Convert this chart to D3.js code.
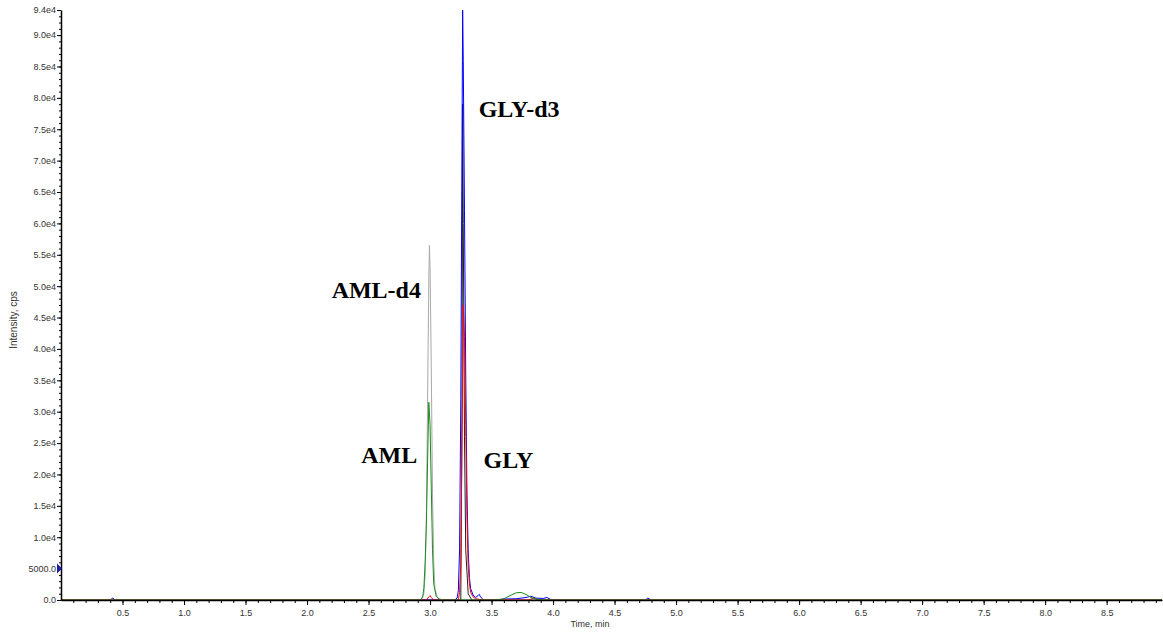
<!DOCTYPE html>
<html>
<head>
<meta charset="utf-8">
<script src="https://cdn.jsdelivr.net/npm/d3@7"></script>
<style>
  html, body { margin: 0; padding: 0; background: #fff; }
  svg { display: block; }
</style>
</head>
<body>
<div id="chart"></div>
<script>
// Data (time in min, intensity in cps)
const glyD3 = [
  [0.0, 0], [0.40, 0], [0.42, 300], [0.44, 0], [3.20, 0], [3.22, 300], [3.23, 1500], [3.24, 8000],
  [3.25, 32000], [3.26, 74000], [3.265, 94000], [3.27, 86000], [3.28, 62000],
  [3.29, 36000], [3.30, 17000], [3.31, 8000], [3.32, 3600], [3.33, 1800],
  [3.35, 800], [3.37, 400], [3.39, 700], [3.40, 900], [3.41, 500], [3.43, 100],
  [3.45, 0], [3.50, 0], [3.60, 150], [3.70, 200], [3.78, 400], [3.82, 600],
  [3.86, 300], [3.92, 250], [3.95, 400], [3.98, 100], [4.02, 0], [4.75, 0],
  [4.77, 300], [4.80, 0], [8.95, 0]
];
const gly = [
  [0.0, 0], [2.97, 0], [2.99, 500], [3.00, 700], [3.01, 400], [3.03, 0],
  [3.23, 0], [3.24, 1200], [3.25, 6000], [3.26, 26000], [3.27, 47000],
  [3.28, 42000], [3.29, 28000], [3.30, 13000], [3.31, 5500], [3.32, 2600],
  [3.33, 1200], [3.35, 500], [3.37, 200], [3.40, 100], [3.45, 0], [3.80, 0],
  [3.84, 300], [3.88, 0], [8.95, 0]
];
const amlD4 = [
  [0.0, 0], [2.93, 0], [2.95, 1000], [2.96, 4000], [2.97, 13000], [2.98, 32000],
  [2.99, 51000], [2.995, 56500], [3.00, 53000], [3.01, 37000], [3.02, 17000],
  [3.03, 6000], [3.04, 1800], [3.06, 400], [3.10, 0], [8.95, 0]
];
const aml = [
  [0.0, 0], [2.92, 0], [2.94, 500], [2.95, 2000], [2.96, 6000], [2.97, 12000],
  [2.98, 22000], [2.99, 31500], [3.00, 28000], [3.01, 18000], [3.02, 8000],
  [3.03, 2500], [3.05, 600], [3.08, 0], [3.55, 0], [3.60, 200], [3.65, 700],
  [3.70, 1150], [3.74, 1200], [3.78, 900], [3.82, 400], [3.87, 100], [3.92, 0],
  [8.95, 0]
];
const other = [
  [0.0, 0], [3.25, 0], [3.26, 30000], [3.265, 79000], [3.27, 60000], [3.28, 26000],
  [3.29, 8000], [3.31, 1000], [3.34, 0], [8.95, 0]
];

const series = [
  { name: 'other', color: '#222222', values: other },
  { name: 'GLY-d3', color: '#0000ff', values: glyD3 },
  { name: 'AML-d4', color: '#a8a8a8', values: amlD4 },
  { name: 'GLY', color: '#ff0000', values: gly },
  { name: 'AML', color: '#1e8c1e', values: aml }
];

const peakLabels = [
  { text: 'GLY-d3', t: 3.395, v: 77000 },
  { text: 'AML-d4', t: 2.20, v: 48100 },
  { text: 'AML', t: 2.44, v: 21800 },
  { text: 'GLY', t: 3.435, v: 21100 }
];

const xMajor = [0.5, 1.0, 1.5, 2.0, 2.5, 3.0, 3.5, 4.0, 4.5, 5.0, 5.5, 6.0, 6.5, 7.0, 7.5, 8.0, 8.5];
const yMajor = [0, 5000, 10000, 15000, 20000, 25000, 30000, 35000, 40000, 45000,
  50000, 55000, 60000, 65000, 70000, 75000, 80000, 85000, 90000, 94000];

const WIDTH = 1163;
const HEIGHT = 632;
const margin = { left: 61, right: 1, top: 10, bottom: 32 };

const x = d3.scaleLinear().domain([0, 8.95]).range([margin.left, WIDTH - margin.right]);
const y = d3.scaleLinear().domain([0, 94000]).range([HEIGHT - margin.bottom, margin.top]);

const svg = d3.select('#chart').append('svg')
  .attr('width', WIDTH).attr('height', HEIGHT)
  .style('font-family', 'Liberation Sans, Arial, sans-serif');

// traces
const line = d3.line().x(d => x(d[0])).y(d => y(d[1]));
svg.append('g').selectAll('path')
  .data(series)
  .join('path')
  .attr('fill', 'none')
  .attr('stroke', d => d.color)
  .attr('stroke-width', 1)
  .attr('d', d => line(d.values));

// x axis
const xMinor = d3.range(1, 90).map(i => i / 10).filter(v => v <= 8.95);
const gx = svg.append('g').attr('transform', `translate(0,${y(0)})`);
gx.call(d3.axisBottom(x).tickValues(xMinor).tickSize(3).tickFormat(''))
  .call(g => g.select('.domain').remove());
gx.append('g').call(d3.axisBottom(x).tickValues(xMajor).tickSize(5).tickSizeOuter(0)
  .tickFormat(d3.format('.1f')))
  .call(g => g.select('.domain').attr('stroke', '#000').attr('stroke-width', 1.5))
  .call(g => g.selectAll('text').attr('fill', '#333').attr('font-size', 9).attr('dy', '0.9em'));

// y axis
const yMinor = d3.range(0, 95000, 1000);
const gy = svg.append('g').attr('transform', `translate(${x(0)},0)`);
gy.call(d3.axisLeft(y).tickValues(yMinor).tickSize(2).tickFormat(''))
  .call(g => g.select('.domain').remove());
gy.append('g').call(d3.axisLeft(y).tickValues(yMajor).tickSize(4).tickSizeOuter(0)
  .tickFormat(d => d === 0 ? '0.0' : d === 5000 ? '5000.0' : (d / 10000).toFixed(1) + 'e4'))
  .call(g => g.select('.domain').attr('stroke', '#000').attr('stroke-width', 1.5))
  .call(g => g.selectAll('text').attr('fill', '#333').attr('font-size', 9).attr('x', -5));

// marker at 5000
svg.append('path')
  .attr('d', `M${x(0) - 4},${y(5000) - 5} L${x(0) + 1},${y(5000)} L${x(0) - 4},${y(5000) + 5} Z`)
  .attr('fill', '#1a1aa0');

// axis titles
svg.append('text')
  .attr('transform', `translate(17,${(y(0) + y(94000)) / 2 + 15}) rotate(-90)`)
  .attr('text-anchor', 'middle').attr('font-size', 10).attr('fill', '#333')
  .text('Intensity, cps');
svg.append('text')
  .attr('x', x(4.3)).attr('y', HEIGHT - 5)
  .attr('text-anchor', 'middle').attr('font-size', 9).attr('fill', '#333')
  .text('Time, min');

// peak labels
svg.append('g').selectAll('text')
  .data(peakLabels)
  .join('text')
  .attr('x', d => x(d.t)).attr('y', d => y(d.v))
  .attr('font-family', 'Liberation Serif, Times New Roman, serif')
  .attr('font-weight', 'bold').attr('font-size', 24).attr('fill', '#000')
  .text(d => d.text);
</script>
</body>
</html>
